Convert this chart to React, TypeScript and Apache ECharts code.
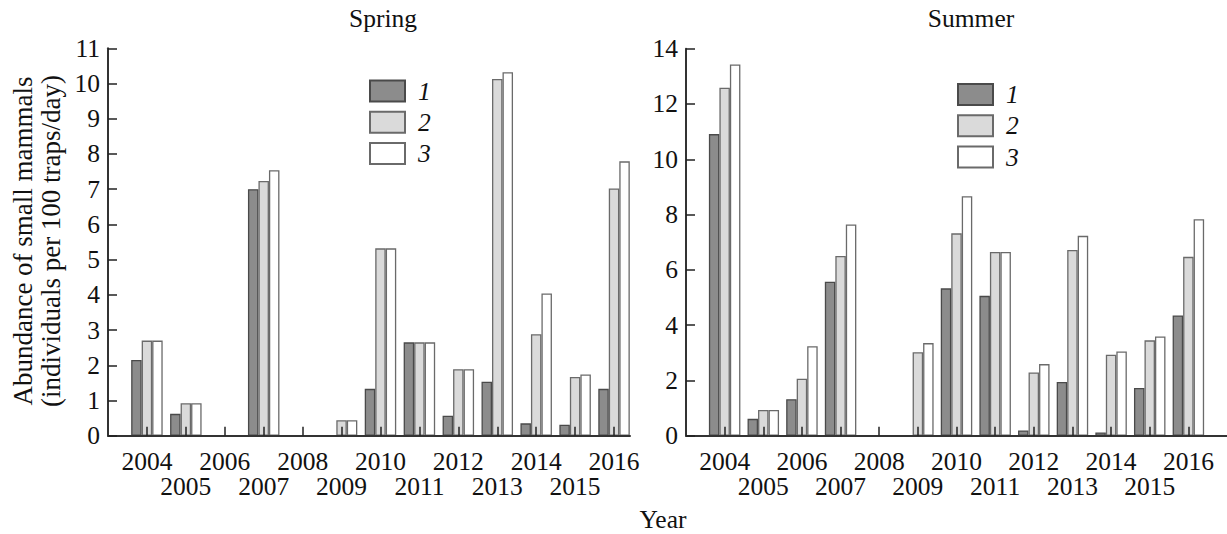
import React, { useEffect, useRef } from "react";
import * as echarts from "echarts";

const years = [2004, 2005, 2006, 2007, 2008, 2009, 2010, 2011, 2012, 2013, 2014, 2015, 2016];
const seriesNames = ["1", "2", "3"];

const spring1 = [2.15, 0.62, 0, 7.0, 0, 0, 1.33, 2.65, 0.57, 1.53, 0.35, 0.31, 1.33];
const spring2 = [2.7, 0.92, 0, 7.23, 0, 0.44, 5.32, 2.65, 1.89, 10.13, 2.88, 1.67, 7.02];
const spring3 = [2.7, 0.92, 0, 7.54, 0, 0.44, 5.32, 2.65, 1.89, 10.32, 4.04, 1.74, 7.79];

const summer1 = [10.91, 0.61, 1.32, 5.57, 0, 0, 5.33, 5.06, 0.19, 1.94, 0.12, 1.73, 4.35];
const summer2 = [12.59, 0.93, 2.06, 6.5, 0, 3.02, 7.32, 6.65, 2.29, 6.72, 2.93, 3.45, 6.47];
const summer3 = [13.43, 0.93, 3.24, 7.64, 0, 3.35, 8.66, 6.65, 2.59, 7.23, 3.05, 3.59, 7.83];

const springTicks = [0, 1, 2, 3, 4, 5, 6, 7, 8, 9, 10, 11];
const summerTicks = [0, 2, 4, 6, 8, 10, 12, 14];

const FONT = "Liberation Serif";
const FS = 25.5;
const fills = ["#8c8c8c", "#dadada", "#ffffff"];
const borders = ["#4a4a4a", "#6a6a6a", "#6a6a6a"];

function toData(vals: number[]) {
  return vals.map((v, i) => [years[i], v === 0 ? null : v]);
}

function xAxis(gridIndex: number, max: number) {
  return {
    type: "value",
    gridIndex,
    min: 2003,
    max,
    interval: 1,
    z: 5,
    splitLine: { show: false },
    axisLine: { show: true, lineStyle: { color: "#333", width: 2 } },
    axisTick: { show: true, inside: true, length: 9, lineStyle: { color: "#222", width: 1.5 } },
    axisLabel: {
      showMinLabel: false,
      showMaxLabel: false,
      margin: 13,
      fontFamily: FONT,
      fontSize: FS,
      color: "#111",
      lineHeight: 25,
      verticalAlign: "top",
      formatter: (v: number) => {
        if (v < 2004 || v > 2016) return "";
        return v % 2 === 0 ? String(v) : "\n" + v;
      },
    },
  };
}

function yAxis(gridIndex: number, max: number, interval: number) {
  return {
    type: "value",
    gridIndex,
    min: 0,
    max,
    interval,
    z: 5,
    splitLine: { show: false },
    axisLine: { show: true, lineStyle: { color: "#333", width: 2 } },
    axisTick: { show: true, inside: true, length: 9, lineStyle: { color: "#222", width: 1.5 } },
    axisLabel: { margin: 8, fontFamily: FONT, fontSize: FS, color: "#111" },
  };
}

function barSeries(name: string, idx: number, vals: number[], gridIdx: number) {
  return {
    type: "bar",
    name,
    xAxisIndex: gridIdx,
    yAxisIndex: gridIdx,
    barWidth: 10.5,
    barGap: "0%",
    data: toData(vals),
    itemStyle: { color: fills[idx], borderColor: borders[idx], borderWidth: 1.3 },
  };
}

function legend(left: number, top: number) {
  return {
    left,
    top,
    orient: "vertical",
    itemWidth: 35,
    itemHeight: 21,
    itemGap: 5.3,
    icon: "rect",
    selectedMode: false,
    data: seriesNames,
    textStyle: { fontFamily: FONT, fontStyle: "italic", fontSize: FS, color: "#111", padding: [0, 0, 0, 8] },
  };
}

const titleStyle = { fontFamily: FONT, fontSize: FS, fontWeight: "normal", color: "#111" };

export default function App() {
  const ref = useRef<HTMLDivElement>(null);
  useEffect(() => {
    if (!ref.current) return;
    const chart = echarts.init(ref.current, null, { renderer: "svg" });
    chart.setOption({
      animation: false,
      backgroundColor: "#ffffff",
      graphic: [
        {
          type: "text",
          x: 383,
          y: 18.5,
          style: { text: "Spring", ...{ font: `${FS}px "${FONT}"` }, fill: "#111", align: "center", verticalAlign: "middle" },
        },
        {
          type: "text",
          x: 971,
          y: 18.5,
          style: { text: "Summer", font: `${FS}px "${FONT}"`, fill: "#111", align: "center", verticalAlign: "middle" },
        },
        {
          type: "text",
          x: 36.5,
          y: 241,
          rotation: Math.PI / 2,
          style: {
            text: "Abundance of small mammals\n(individuals per 100 traps/day)",
            font: `27px "${FONT}"`,
            lineHeight: 28,
            fill: "#111",
            align: "center",
            verticalAlign: "middle",
          },
        },
        {
          type: "text",
          x: 663,
          y: 519,
          style: { text: "Year", font: `${FS}px "${FONT}"`, fill: "#111", align: "center", verticalAlign: "middle" },
        },
      ],
      legend: [legend(364, 73), legend(952, 76.5)],
      grid: [
        { left: 108, top: 48.3, width: 522, height: 387.4 },
        { left: 686, top: 48.7, width: 545, height: 387 },
      ],
      xAxis: [xAxis(0, 2016.41), xAxis(1, 2003 + 545 / 38.93)],
      yAxis: [
        yAxis(0, springTicks[springTicks.length - 1], springTicks[1] - springTicks[0]),
        yAxis(1, summerTicks[summerTicks.length - 1], summerTicks[1] - summerTicks[0]),
      ],
      series: [
        barSeries(seriesNames[0], 0, spring1, 0),
        barSeries(seriesNames[1], 1, spring2, 0),
        barSeries(seriesNames[2], 2, spring3, 0),
        barSeries(seriesNames[0], 0, summer1, 1),
        barSeries(seriesNames[1], 1, summer2, 1),
        barSeries(seriesNames[2], 2, summer3, 1),
      ],
    });
    return () => chart.dispose();
  }, []);
  return <div ref={ref} style={{ position: "fixed", left: 0, top: 0, width: 1227, height: 534 }} />;
}
